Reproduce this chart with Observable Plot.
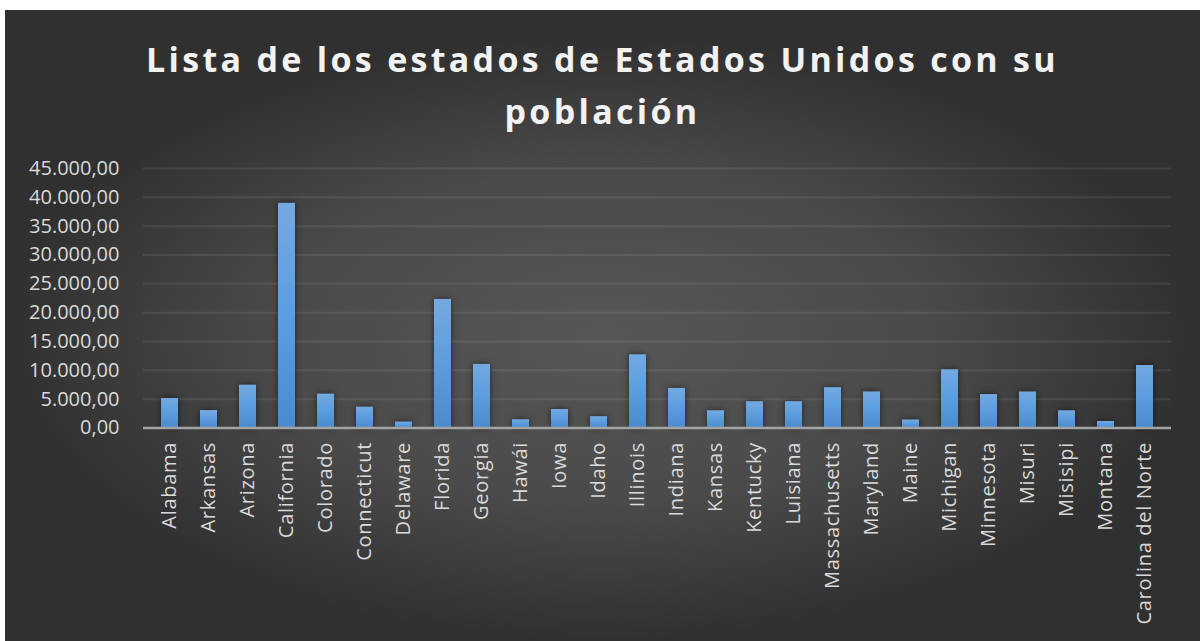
<!DOCTYPE html>
<html>
<head>
<meta charset="utf-8">
<script src="https://cdn.jsdelivr.net/npm/d3@7"></script>
<script src="https://cdn.jsdelivr.net/npm/@observablehq/plot@0.6"></script>
<style>
  html, body { margin: 0; padding: 0; background: #ffffff; }
  body { width: 1200px; height: 641px; position: relative; overflow: hidden; }
  #bg {
    position: absolute; left: 5px; top: 10px; width: 1195px; height: 631px;
    background: #2b2b2b radial-gradient(ellipse closest-side at 50% 52%, #575757 0%, #4a4a4a 55%, #303030 100%);
  }
  #title {
    position: absolute; left: 5px; top: 33px; width: 1195px;
    text-align: center; font-family: "Open Sans", sans-serif; font-weight: 700;
    font-size: 34px; line-height: 52px; letter-spacing: 3.3px; color: #f2f2f2;
  }
  #chart { position: absolute; left: 0; top: 140px; }
  #chart g[aria-label="bar"] rect { filter: drop-shadow(0 0 3px rgba(0,0,0,0.55)); }
  #chart g[aria-label="x-axis tick label"] text { letter-spacing: 0.7px; }
</style>
</head>
<body>
<div id="bg"></div>
<div id="title">Lista de los estados de Estados Unidos con su<br>población</div>
<div id="chart"></div>
<script>
const states = ["Alabama","Arkansas","Arizona","California","Colorado","Connecticut","Delaware","Florida","Georgia","Hawái","Iowa","Idaho","Illinois","Indiana","Kansas","Kentucky","Luisiana","Massachusetts","Maryland","Maine","Michigan","Minnesota","Misuri","Misisipi","Montana","Carolina del Norte"];
const poblacion = [5108, 3030, 7430, 38965, 5877, 3617, 1031, 22300, 11029, 1435, 3207, 1964, 12700, 6862, 2990, 4560, 4573, 7001, 6250, 1395, 10100, 5800, 6250, 2990, 1133, 10835];
const yTicks = [0, 5000, 10000, 15000, 20000, 25000, 30000, 35000, 40000, 45000];

const data = states.map((s, i) => ({estado: s, valor: poblacion[i]}));
const esLocale = d3.formatLocale({decimal: ",", thousands: ".", grouping: [3], currency: ["", ""]});
const fmt = esLocale.format(",.2f");

const chart = Plot.plot({
  width: 1200,
  height: 501,
  marginLeft: 143,
  marginRight: 29,
  marginTop: 28,
  marginBottom: 213.5,
  style: {background: "transparent", fontFamily: "Open Sans, sans-serif"},
  x: {domain: states, paddingInner: 0.57, paddingOuter: 0.28},
  y: {domain: [0, 45000]},
  marks: [
    Plot.gridY(yTicks, {stroke: "#ffffff", strokeOpacity: 0.08, strokeWidth: 2}),
    Plot.barY(data, {x: "estado", y: "valor", fill: "url(#barGrad)"}),
    Plot.ruleY([0], {stroke: "#a3a3a3", strokeWidth: 2.5}),
    Plot.axisY(yTicks, {tickFormat: fmt, tickSize: 0, tickPadding: 24, fontSize: 20, fill: "#d9d9d9", label: null}),
    Plot.axisX({tickRotate: -90, tickSize: 0, tickPadding: 14, fontSize: 20, fill: "#d9d9d9", label: null})
  ]
});

const svg = d3.select(chart);
const defs = svg.insert("defs", ":first-child");
const grad = defs.append("linearGradient").attr("id", "barGrad").attr("x1", 0).attr("y1", 0).attr("x2", 0).attr("y2", 1);
grad.append("stop").attr("offset", "0%").attr("stop-color", "#74a9e0");
grad.append("stop").attr("offset", "50%").attr("stop-color", "#5b9ddf");
grad.append("stop").attr("offset", "100%").attr("stop-color", "#4a8bcd");
document.getElementById("chart").appendChild(chart);
</script>
</body>
</html>
